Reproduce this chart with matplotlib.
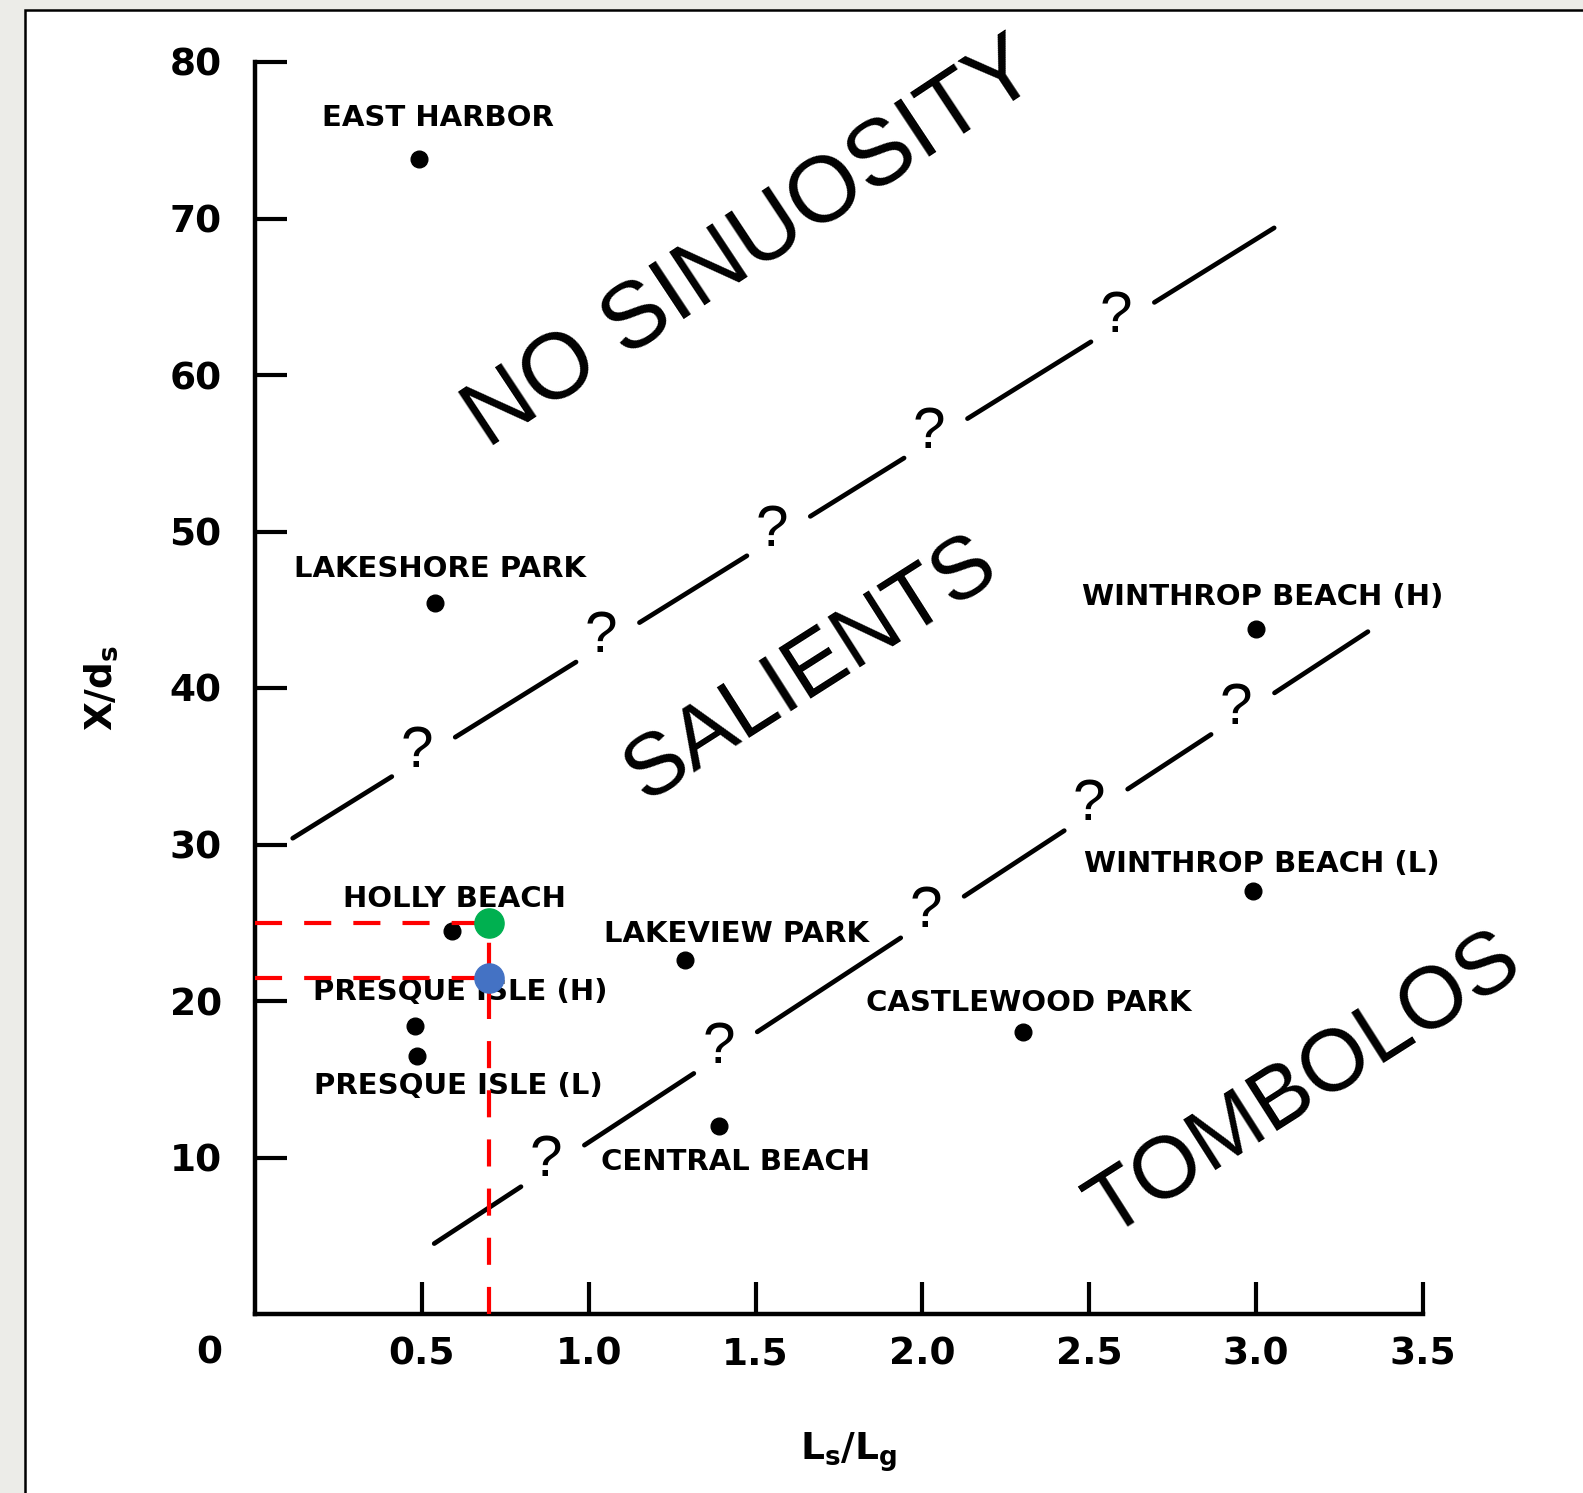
import numpy as np
import matplotlib
matplotlib.use("Agg")
import matplotlib.pyplot as plt
from matplotlib.patches import Rectangle

# field sites (Ls/Lg, X/ds)
SITES = ["EAST HARBOR", "LAKESHORE PARK", "HOLLY BEACH", "PRESQUE ISLE (H)",
         "PRESQUE ISLE (L)", "LAKEVIEW PARK", "CENTRAL BEACH", "CASTLEWOOD PARK",
         "WINTHROP BEACH (H)", "WINTHROP BEACH (L)"]
SITE_X = [0.49, 0.54, 0.59, 0.48, 0.485, 1.29, 1.39, 2.30, 3.00, 2.99]
SITE_Y = [73.8, 45.4, 24.5, 18.4, 16.5, 22.6, 12.0, 18.0, 43.8, 27.0]

# label anchor points (centre of each label)
LABEL_X = [0.548, 0.555, 0.598, 0.616, 0.61, 1.444, 1.441, 2.318, 3.021, 3.018]
LABEL_Y = [76.4, 47.6, 26.5, 20.55, 14.55, 24.3, 9.7, 19.9, 45.8, 28.75]

# uncertain boundaries: end points and "?" positions along them
UPPER_ENDS = [(0.113, 30.4), (3.054, 69.4)]
UPPER_Q = [0.485, 1.037, 1.549, 2.02, 2.58]
LOWER_ENDS = [(0.537, 4.5), (3.335, 43.6)]
LOWER_Q = [0.872, 1.39, 2.01, 2.50, 2.94]

# example read-off point
READ_X = 0.7
READ_Y_HIGH = 25.0
READ_Y_LOW = 21.5

X_TICKS = [0.5, 1.0, 1.5, 2.0, 2.5, 3.0, 3.5]
Y_TICKS = [10, 20, 30, 40, 50, 60, 70, 80]

W, H = 1583, 1493
BOLD = "DejaVu Sans"
THIN = ["Liberation Sans", "DejaVu Sans"]


def line_y(ends, x):
    (x0, y0), (x1, y1) = ends
    return y0 + (y1 - y0) * (x - x0) / (x1 - x0)


def draw_boundary(ax, ends, qs, gap_lo=0.075, gap_hi=0.115):
    xs = [ends[0][0]]
    for q in qs:
        xs += [q - gap_lo, q + gap_hi]
    xs.append(ends[1][0])
    for a, b in zip(xs[::2], xs[1::2]):
        ax.plot([a, b], [line_y(ends, a), line_y(ends, b)], color="black",
                lw=3.4, solid_capstyle="round")
    for q in qs:
        ax.text(q, line_y(ends, q) + 0.6, "?", fontsize=42, family=THIN,
                ha="center", va="center")


def main():
    fig = plt.figure(figsize=(W / 100, H / 100), dpi=100)
    fig.patch.set_facecolor("#ECECE8")
    panel = Rectangle((25 / W, -0.05), 1.2, (H - 10) / H + 0.05,
                      transform=fig.transFigure, facecolor="white",
                      edgecolor="black", lw=1.8, zorder=-10)
    fig.patches.append(panel)

    ax = fig.add_axes([255 / W, (H - 1314) / H, (1423 - 255) / W, (1314 - 62) / H])
    ax.set_facecolor("none")
    ax.set_xlim(0, 3.5)
    ax.set_ylim(0, 80)

    for side in ("top", "right"):
        ax.spines[side].set_visible(False)
    for side in ("left", "bottom"):
        ax.spines[side].set_linewidth(3.2)

    ax.set_xticks(X_TICKS)
    ax.set_xticklabels([f"{v:.1f}" for v in X_TICKS])
    ax.set_yticks(Y_TICKS)
    ax.set_yticklabels([str(v) for v in Y_TICKS])
    ax.tick_params(direction="in", length=23, width=3, labelsize=27)
    ax.tick_params(axis="x", pad=16)
    ax.tick_params(axis="y", pad=24)
    for lab in ax.get_xticklabels() + ax.get_yticklabels():
        lab.set_fontweight("bold")
        lab.set_family(BOLD)

    ax.text(-0.138, -2.55, "0", fontsize=27, fontweight="bold", ha="center",
            va="center", clip_on=False)
    ax.text(-0.132, 0.5, r"$\mathbf{X/d_s}$", transform=ax.transAxes,
            fontsize=27, rotation=90, ha="center", va="center")
    ax.text(0.508, -0.11, r"$\mathbf{L_s/L_g}$", transform=ax.transAxes,
            fontsize=27, ha="center", va="center")

    # boundaries between regimes
    draw_boundary(ax, UPPER_ENDS, UPPER_Q)
    draw_boundary(ax, LOWER_ENDS, LOWER_Q)

    # field data
    ax.plot(SITE_X, SITE_Y, "o", color="black", ms=12, ls="none", zorder=4)
    for name, lx, ly in zip(SITES, LABEL_X, LABEL_Y):
        ax.text(lx, ly, name, fontsize=21, fontweight="bold", family=BOLD,
                ha="center", va="center", zorder=5)

    # regime names
    ax.text(1.49, 68.3, "NO SINUOSITY", fontsize=67, family=THIN,
            rotation=33.5, rotation_mode="anchor", ha="center", va="center")
    ax.text(1.666, 41.15, "SALIENTS", fontsize=63, family=THIN,
            rotation=32.5, rotation_mode="anchor", ha="center", va="center")
    ax.text(3.145, 14.63, "TOMBOLOS", fontsize=63, family=THIN,
            rotation=32.5, rotation_mode="anchor", ha="center", va="center")

    # red read-off lines
    red = dict(color="#FF0000", lw=3, dashes=(6.5, 5.3), zorder=6)
    ax.plot([0, READ_X], [READ_Y_HIGH, READ_Y_HIGH], **red)
    ax.plot([0, READ_X], [READ_Y_LOW, READ_Y_LOW], **red)
    ax.plot([READ_X, READ_X], [0, READ_Y_HIGH], **red)
    ax.plot([READ_X], [READ_Y_HIGH], "o", color="#00B050", ms=21, zorder=7)
    ax.plot([READ_X], [READ_Y_LOW], "o", color="#4472C4", ms=21, zorder=7)

    fig.savefig("out.png", dpi=100, facecolor=fig.get_facecolor())


if __name__ == "__main__":
    main()
